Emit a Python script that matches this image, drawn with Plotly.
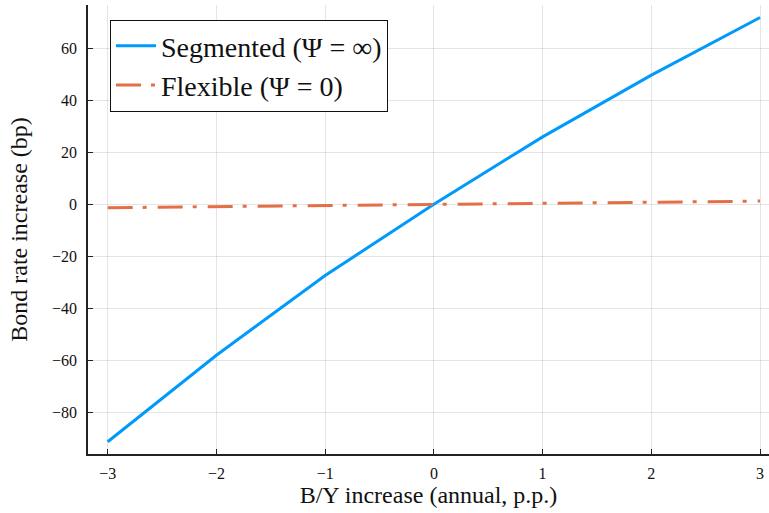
import plotly.graph_objects as go

x_vals = [-3, -2, -1, 0, 1, 2, 3]
segmented = [-91.1, -57.9, -27.3, 0.0, 25.9, 49.6, 71.7]
flexible = [-1.3, -0.85, -0.42, 0.0, 0.42, 0.85, 1.25]
names = ["Segmented (Ψ = ∞)", "Flexible (Ψ = 0)"]
x_ticks = [-3, -2, -1, 0, 1, 2, 3]
y_ticks = [-80, -60, -40, -20, 0, 20, 40, 60]

FONT = "Liberation Serif"
fig = go.Figure()
fig.add_trace(go.Scatter(x=x_vals, y=segmented, mode="lines", name=names[0],
                         line=dict(color="#009AFA", width=3)))
fig.add_trace(go.Scatter(x=x_vals, y=flexible, mode="lines", name=names[1],
                         line=dict(color="#E36F47", width=3, dash="25px,10px,4px,11px")))

axis_common = dict(
    showgrid=True, gridcolor="rgba(0,0,0,0.1)", gridwidth=1,
    showline=True, linecolor="#222", linewidth=1.5,
    ticks="inside", ticklen=5, tickcolor="#222", tickwidth=1,
    zeroline=False, tickfont=dict(family=FONT, size=16, color="#111"),
    mirror=False, automargin=False, ticklabeloverflow="allow",
)
fig.update_xaxes(range=[-3.181, 3.082], tickvals=x_ticks, ticklabelstandoff=4,
                 title=dict(text="B/Y increase (annual, p.p.)",
                            font=dict(family=FONT, size=24, color="#111"), standoff=4),
                 **axis_common)
fig.update_yaxes(range=[-95.8, 76.5], tickvals=y_ticks, ticklabelstandoff=6,
                 title=dict(text="Bond rate increase (bp)",
                            font=dict(family=FONT, size=24, color="#111"), standoff=18),
                 **axis_common)
fig.update_layout(
    width=769, height=513,
    margin=dict(l=88, r=0, t=5, b=59),
    paper_bgcolor="white", plot_bgcolor="white",
    showlegend=True,
    legend=dict(x=0.032, y=0.967, xanchor="left", yanchor="top",
                bgcolor="white", bordercolor="#111", borderwidth=1.2,
                font=dict(family=FONT, size=28, color="#111"),
                tracegroupgap=0, itemwidth=40),
)
fig.write_html("out.html", config={"displayModeBar": False},
               post_script="document.body.style.margin='0';document.body.style.overflow='hidden';")
